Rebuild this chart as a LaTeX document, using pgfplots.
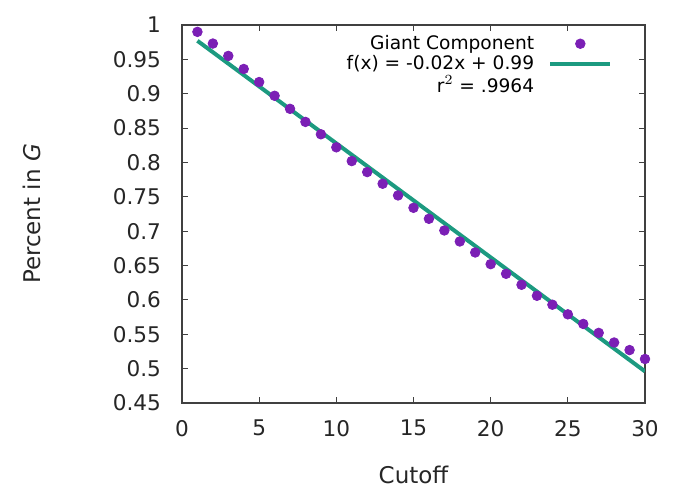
\documentclass[border=0pt]{standalone}
\usepackage{pgfplots}
\usepackage{fontspec}
\setmainfont{DejaVu Sans}
\pgfplotsset{compat=1.18}

\definecolor{gpPurple}{HTML}{7B1FB5}
\definecolor{gpGreen}{HTML}{1C9A80}

\begin{document}
\begin{tikzpicture}
\begin{axis}[
    scale only axis,
    width=231.5pt, height=189pt,
    xmin=0, xmax=30, ymin=0.45, ymax=1,
    xtick={0,5,...,30},
    ytick={0.45,0.5,...,1.0},
    yticklabels={0.45,0.5,0.55,0.6,0.65,0.7,0.75,0.8,0.85,0.9,0.95,1},
    tick align=inside,
    major tick length=3pt,
    tick style={black!75, line width=0.5pt},
    axis line style={black!75, line width=0.6pt},
    /pgf/number format/assume math mode=true,
    ticklabel style={font=\fontsize{10.8}{12}\selectfont, black!85},
    yticklabel style={xshift=-7pt},
    xticklabel style={yshift=-5pt},
    xlabel={Cutoff},
    ylabel={Percent in \textit{G}},
    label style={font=\fontsize{11.5}{13}\selectfont, black!85},
    xlabel style={at={(rel axis cs:0.5,-0.19)}, anchor=center},
    ylabel style={at={(rel axis cs:-0.324,0.5)}, anchor=center},
    legend style={draw=none, fill=none, at={(rel axis cs:0.935,0.99)}, anchor=north east,
        font=\fontsize{9.3}{10}\selectfont, row sep=-2.5pt, column sep=5pt, inner sep=1pt},
    legend cell align=right,
    legend plot pos=right,
    legend image code/.code={
        \draw[mark repeat=2, mark phase=2] plot coordinates {(0cm,0cm) (0.53cm,0cm) (1.06cm,0cm)};
    },
]
\addplot[only marks, mark=*, mark size=2.4pt, gpPurple] coordinates {
    (1,0.990) (2,0.973) (3,0.955) (4,0.936) (5,0.917) (6,0.897)
    (7,0.878) (8,0.859) (9,0.841) (10,0.822) (11,0.802) (12,0.786)
    (13,0.769) (14,0.752) (15,0.734) (16,0.718) (17,0.701) (18,0.685)
    (19,0.669) (20,0.652) (21,0.638) (22,0.622) (23,0.606) (24,0.593)
    (25,0.579) (26,0.565) (27,0.552) (28,0.538) (29,0.527) (30,0.514)
};
\addlegendentry{Giant Component}
\addplot[gpGreen, line width=2pt] coordinates {(1,0.977) (30,0.496)};
\addlegendentry{f(x) = -0.02x + 0.99}
\addlegendimage{empty legend}
\addlegendentry{r$^2$ = .9964}
\end{axis}
\path (current axis.south west) ++(-91pt,-43pt) coordinate (bl);
\path (current axis.north east) ++(14.5pt,12.5pt) coordinate (tr);
\useasboundingbox (bl) rectangle (tr);
\end{tikzpicture}
\end{document}
